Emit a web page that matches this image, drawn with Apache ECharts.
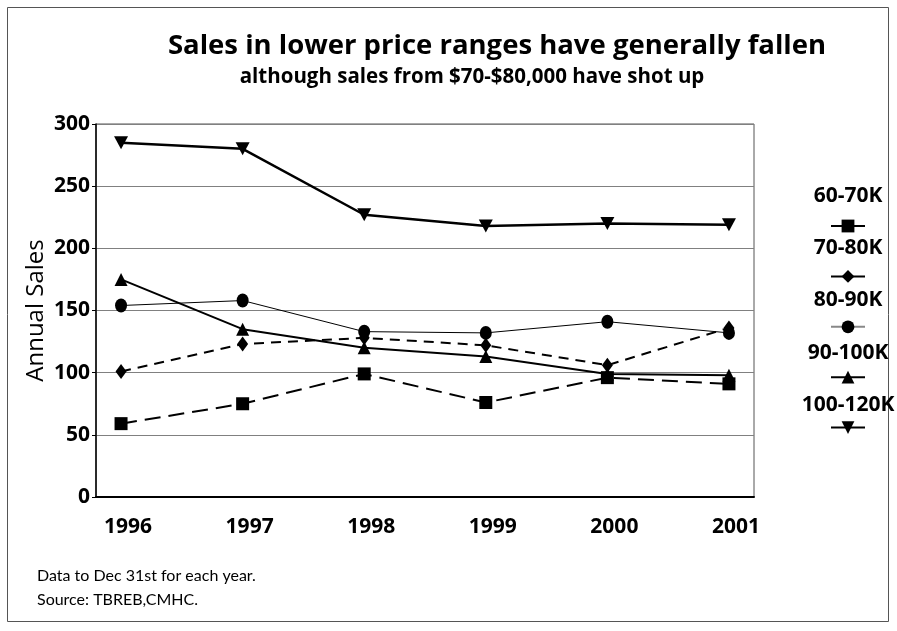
<!DOCTYPE html>
<html>
<head>
<meta charset="utf-8">
<script src="https://cdn.jsdelivr.net/npm/echarts@6/dist/echarts.min.js"></script>
<style>
  html, body { margin: 0; padding: 0; background: #fff; }
  #chart { width: 897px; height: 631px; }
</style>
</head>
<body>
<div id="chart"></div>
<script>
// Annual sales by price range, 1996-2001
const years = [1996, 1997, 1998, 1999, 2000, 2001];
const yTicks = [0, 50, 100, 150, 200, 250, 300];
const seriesNames = ['60-70K', '70-80K', '80-90K', '90-100K', '100-120K'];
const sales60to70 = [59, 75, 99, 76, 96, 91];
const sales70to80 = [101, 123, 128, 122, 106, 136];
const sales80to90 = [154, 158, 133, 132, 141, 132];
const sales90to100 = [175, 135, 120, 113, 99, 98];
const sales100to120 = [285, 280, 227, 218, 220, 219];

const titleText = 'Sales in lower price ranges have generally fallen';
const subtitleText = 'although sales from $70-$80,000 have shot up';
const noteLines = ['Data to Dec 31st for each year.', 'Source: TBREB,CMHC.'];

const FONT = '"Open Sans", Lato, sans-serif';
const NOTE_FONT = 'Lato, "Open Sans", sans-serif';

const chart = echarts.init(document.getElementById('chart'), null, { renderer: 'canvas' });

function pairs(values) {
  return values.map((v, i) => [years[i], v]);
}

const seriesStyles = [
  { data: sales60to70, symbol: 'rect', symbolSize: 13, symbolRotate: 0, line: { width: 2, type: [16, 8] } },
  { data: sales70to80, symbol: 'diamond', symbolSize: [11, 15], symbolRotate: 0, line: { width: 2, type: [10, 7] } },
  { data: sales80to90, symbol: 'circle', symbolSize: [12, 14], symbolRotate: 0, line: { width: 1, type: 'solid' } },
  { data: sales90to100, symbol: 'triangle', symbolSize: [13, 13], symbolRotate: 0, line: { width: 2, type: 'solid' } },
  { data: sales100to120, symbol: 'triangle', symbolSize: [14, 13], symbolRotate: 180, line: { width: 2.5, type: 'solid' } }
];

const series = seriesNames.map((name, i) => {
  const s = seriesStyles[i];
  return {
    name: name,
    type: 'line',
    data: pairs(s.data),
    symbol: s.symbol,
    symbolSize: s.symbolSize,
    symbolRotate: s.symbolRotate,
    showAllSymbol: true,
    color: '#000',
    itemStyle: { color: '#000', borderWidth: 0 },
    lineStyle: { color: '#000', width: s.line.width, type: s.line.type },
    emphasis: { disabled: true },
    animation: false,
    z: 3 + i
  };
});

// Legend label positions (label sits above each legend icon)
const legendX = 848;
const legendLabelY = [196, 248, 300, 353, 405];

const graphics = [
  {
    type: 'rect',
    shape: { x: 7.5, y: 7.5, width: 881, height: 614 },
    style: { fill: null, stroke: '#555', lineWidth: 1 },
    silent: true
  },
  {
    type: 'text', x: 497, y: 46,
    style: { text: titleText, font: 'bold 27.5px ' + FONT, fill: '#000', textAlign: 'center', textVerticalAlign: 'middle' }
  },
  {
    type: 'text', x: 472, y: 77,
    style: { text: subtitleText, font: 'bold 20.5px ' + FONT, fill: '#000', textAlign: 'center', textVerticalAlign: 'middle' }
  }
];
noteLines.forEach((t, i) => {
  graphics.push({
    type: 'text', x: 37, y: 576 + i * 24,
    style: { text: t, font: '16px ' + NOTE_FONT, fill: '#000', textAlign: 'left', textVerticalAlign: 'middle' }
  });
});
seriesNames.forEach((name, i) => {
  graphics.push({
    type: 'text', x: legendX, y: legendLabelY[i],
    style: { text: name, font: 'bold 21px ' + FONT, fill: '#000', textAlign: 'center', textVerticalAlign: 'middle' }
  });
});

const option = {
  backgroundColor: '#fff',
  animation: false,
  grid: {
    left: 96, right: 143, top: 124, bottom: 134,
    show: true, borderColor: '#555', borderWidth: 1, backgroundColor: 'transparent'
  },
  xAxis: {
    type: 'value',
    min: 1995.794,
    max: 2001.206,
    axisLine: { show: true, onZero: false, lineStyle: { color: '#000', width: 2 } },
    axisTick: { show: false },
    splitLine: { show: false },
    axisLabel: {
      customValues: years,
      formatter: v => String(v),
      color: '#000', fontFamily: FONT, fontWeight: 'bold', fontSize: 21,
      margin: 20,
      padding: [0, 0, 0, 14]
    }
  },
  yAxis: {
    type: 'value',
    min: yTicks[0],
    max: yTicks[yTicks.length - 1],
    interval: 50,
    axisLine: { show: true, lineStyle: { color: '#000', width: 1.5 } },
    axisTick: { show: true, length: 4, lineStyle: { color: '#000' } },
    splitLine: { show: true, lineStyle: { color: '#808080', width: 1 } },
    axisLabel: {
      color: '#000', fontFamily: FONT, fontWeight: 'bold', fontSize: 21, margin: 6
    },
    name: 'Annual Sales',
    nameLocation: 'middle',
    nameRotate: 90,
    nameGap: 48,
    nameMoveOverlap: false,
    nameTextStyle: { color: '#000', fontFamily: FONT, fontSize: 24 }
  },
  legend: {
    orient: 'vertical',
    left: 825,
    top: 213,
    itemWidth: 34,
    itemHeight: 16,
    itemGap: 36,
    selectedMode: false,
    formatter: () => '',
    textStyle: { fontSize: 8 },
    lineStyle: { type: 'solid' },
    data: seriesNames.map((n, i) => i === 2
      ? { name: n, lineStyle: { color: '#888', type: 'solid' } }
      : { name: n })
  },
  graphic: graphics,
  series: series
};

chart.setOption(option);
</script>
</body>
</html>
